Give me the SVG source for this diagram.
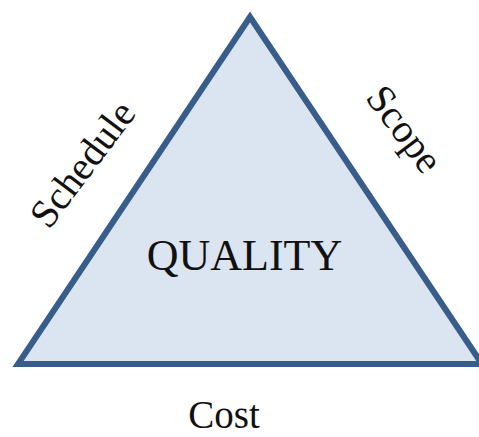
<svg xmlns="http://www.w3.org/2000/svg" width="479" height="437" viewBox="0 0 479 437">
<style>
.lbl{font-family:"Liberation Serif","Times New Roman",serif;fill:#111;text-anchor:middle}
.tri{fill:#dbe5f1;stroke:#385d8a;stroke-width:6;stroke-linejoin:miter}
</style>
<rect width="479" height="437" fill="#ffffff"/>
<g id="triangle">
<polygon class="tri" points="250,17 482,364 18,364"/>
</g>
<g id="quality"><text class="lbl" x="244.5" y="270" font-size="44">QUALITY</text></g>
<g id="schedule"><text class="lbl" font-size="40" transform="translate(93,172) rotate(-53)">Schedule</text></g>
<g id="scope"><text class="lbl" font-size="40" transform="translate(394,137) rotate(53)">Scope</text></g>
<g id="cost"><text class="lbl" x="224" y="428" font-size="39">Cost</text></g>
<g id="connectors"></g>
</svg>
